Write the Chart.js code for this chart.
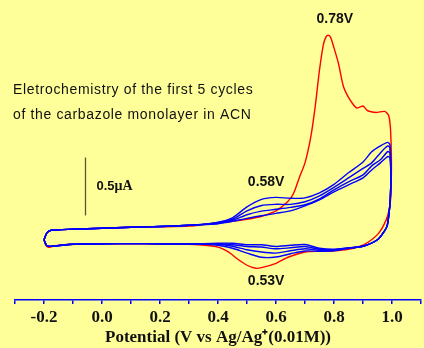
<!DOCTYPE html>
<html>
<head>
<meta charset="utf-8">
<script src="https://cdn.jsdelivr.net/npm/chart.js@4/dist/chart.umd.min.js"></script>
<style>
  html, body { margin: 0; padding: 0; background: #ffff99; }
  #wrap { width: 424px; height: 348px; }
</style>
</head>
<body>
<div id="wrap"><canvas id="c" width="424" height="348"></canvas></div>
<script>
// Cycle 1 (red): potential (V) and current (uA), forward sweep then reverse sweep
const cycle1Potential = [-0.2, -0.19, -0.175, -0.1, 0.0, 0.1, 0.2, 0.3, 0.4, 0.45, 0.5, 0.55, 0.6, 0.64, 0.66, 0.68, 0.7, 0.72, 0.735, 0.75, 0.763, 0.772, 0.78, 0.788, 0.797, 0.815, 0.832, 0.849, 0.865, 0.878, 0.89, 0.9, 0.91, 0.918, 0.945, 0.975, 0.989, 0.995,
  0.998, 0.996, 0.99, 0.98, 0.955, 0.92, 0.89, 0.85, 0.8, 0.75, 0.7, 0.643, 0.6, 0.55, 0.53, 0.5, 0.466, 0.437, 0.4, 0.334, 0.2, 0.1, 0.0, -0.123, -0.17, -0.185, -0.195, -0.2];
const cycle1Current = [0, 0.060, 0.082, 0.091, 0.099, 0.108, 0.112, 0.118, 0.147, 0.159, 0.177, 0.203, 0.250, 0.328, 0.397, 0.534, 0.664, 0.888, 1.147, 1.466, 1.681, 1.750, 1.767, 1.750, 1.681, 1.526, 1.328, 1.233, 1.172, 1.138, 1.147, 1.155, 1.129, 1.112, 1.099, 1.108, 1.069, 0.948,
  0.690, 0.371, 0.259, 0.172, 0.060, -0.017, -0.056, -0.082, -0.095, -0.099, -0.106, -0.149, -0.203, -0.241, -0.246, -0.220, -0.164, -0.106, -0.063, -0.043, -0.037, -0.034, -0.036, -0.041, -0.056, -0.065, -0.043, 0];

// Cycles 2-5 (blue) share one potential list
const blueCyclesPotential = [-0.2, -0.19, -0.175, -0.1, 0.0, 0.1, 0.2, 0.3, 0.35, 0.4, 0.45, 0.5, 0.55, 0.6, 0.65, 0.7, 0.75, 0.8, 0.85, 0.9, 0.93, 0.96, 0.985, 0.993,
  0.996, 0.994, 0.99, 0.984, 0.975, 0.95, 0.9, 0.85, 0.8, 0.75, 0.7, 0.65, 0.6, 0.55, 0.5, 0.45, 0.4, 0.35, 0.3, 0.2, 0.1, 0.0, -0.1, -0.17, -0.19, -0.2];
const cycle2Current = [0, 0.060, 0.082, 0.091, 0.099, 0.108, 0.114, 0.125, 0.134, 0.151, 0.190, 0.284, 0.349, 0.366, 0.358, 0.362, 0.405, 0.478, 0.578, 0.672, 0.759, 0.810, 0.841, 0.819,
  0.560, 0.345, 0.233, 0.129, 0.078, 0, -0.056, -0.073, -0.095, -0.099, -0.097, -0.121, -0.149, -0.151, -0.115, -0.073, -0.047, -0.039, -0.034, -0.034, -0.033, -0.034, -0.039, -0.056, -0.052, 0];
const cycle3Current = [0, 0.060, 0.082, 0.091, 0.099, 0.108, 0.114, 0.125, 0.133, 0.147, 0.177, 0.250, 0.296, 0.306, 0.306, 0.328, 0.379, 0.453, 0.534, 0.616, 0.664, 0.750, 0.810, 0.793,
  0.552, 0.345, 0.233, 0.129, 0.078, 0, -0.056, -0.073, -0.091, -0.091, -0.078, -0.095, -0.115, -0.106, -0.086, -0.056, -0.039, -0.036, -0.034, -0.034, -0.033, -0.034, -0.039, -0.056, -0.052, 0];
const cycle4Current = [0, 0.060, 0.082, 0.091, 0.099, 0.108, 0.114, 0.125, 0.132, 0.142, 0.168, 0.216, 0.247, 0.263, 0.280, 0.302, 0.353, 0.431, 0.500, 0.560, 0.638, 0.690, 0.761, 0.750,
  0.543, 0.345, 0.233, 0.129, 0.078, 0, -0.056, -0.072, -0.086, -0.082, -0.058, -0.069, -0.078, -0.063, -0.058, -0.043, -0.034, -0.034, -0.034, -0.034, -0.033, -0.034, -0.039, -0.056, -0.052, 0];
const cycle5Current = [0, 0.060, 0.082, 0.091, 0.099, 0.108, 0.114, 0.125, 0.131, 0.138, 0.159, 0.185, 0.207, 0.228, 0.250, 0.293, 0.345, 0.414, 0.474, 0.534, 0.603, 0.664, 0.718, 0.707,
  0.534, 0.345, 0.233, 0.129, 0.078, 0, -0.056, -0.069, -0.082, -0.073, -0.041, -0.047, -0.058, -0.043, -0.043, -0.030, -0.030, -0.033, -0.034, -0.034, -0.033, -0.034, -0.039, -0.056, -0.052, 0];

// Axis tick labels (every 0.2 V; minor ticks every 0.1 V)
const tickLabels = ['-0.2', '0.0', '0.2', '0.4', '0.6', '0.8', '1.0'];
const xTitle = 'Potential (V vs Ag/Ag\u207A(0.01M))';
const descLines = ['Eletrochemistry of the first 5 cycles', 'of the carbazole monolayer in ACN'];
const peakLabels = [
  { text: '0.78V', v: 0.803, i: 1.905 },
  { text: '0.58V', v: 0.566, i: 0.50 },
  { text: '0.53V', v: 0.566, i: -0.355 }
];
const scaleBar = { v: -0.06, from: 0.21, to: 0.71, text: '0.5', unit: '\u03BCA' };

function toPoints(xs, ys) { return xs.map((x, k) => ({ x: x, y: ys[k] })); }

const BLUE = '#0000ff';
const RED = '#ff0000';

const bgPlugin = {
  id: 'bg',
  beforeDraw(chart) {
    const ctx = chart.ctx;
    ctx.save();
    ctx.fillStyle = '#ffff99';
    ctx.fillRect(0, 0, chart.width, chart.height);
    ctx.restore();
  }
};

const annotPlugin = {
  id: 'annot',
  afterDraw(chart) {
    const ctx = chart.ctx;
    const xs = chart.scales.x, ys = chart.scales.y;
    ctx.save();
    // description text
    ctx.fillStyle = '#111';
    ctx.font = '14px "Liberation Sans", Arial, sans-serif';
    ctx.textBaseline = 'middle';
    ctx.textAlign = 'left';
    if ('letterSpacing' in ctx) ctx.letterSpacing = '0.65px';
    ctx.fillText(descLines[0], 13, 90);
    ctx.fillText(descLines[1], 13, 115);
    if ('letterSpacing' in ctx) ctx.letterSpacing = '0px';
    // peak labels
    ctx.font = 'bold 14px "Liberation Sans", Arial, sans-serif';
    ctx.textAlign = 'center';
    peakLabels.forEach(p => {
      ctx.fillText(p.text, xs.getPixelForValue(p.v), ys.getPixelForValue(p.i));
    });
    // scale bar
    const bx = Math.round(xs.getPixelForValue(scaleBar.v)) + 0.5;
    ctx.strokeStyle = '#555533';
    ctx.lineWidth = 1.3;
    ctx.beginPath();
    ctx.moveTo(bx, ys.getPixelForValue(scaleBar.to));
    ctx.lineTo(bx, ys.getPixelForValue(scaleBar.from));
    ctx.stroke();
    ctx.textAlign = 'left';
    const ty = ys.getPixelForValue((scaleBar.from + scaleBar.to) / 2);
    ctx.font = 'bold 13px "Liberation Sans", Arial, sans-serif';
    ctx.fillText(scaleBar.text, bx + 11, ty);
    const w = ctx.measureText(scaleBar.text).width;
    ctx.font = 'bold 14px "Liberation Serif", "Times New Roman", serif';
    ctx.fillText(scaleBar.unit, bx + 11 + w, ty);
    ctx.restore();
  }
};

const blueSets = [cycle2Current, cycle3Current, cycle4Current, cycle5Current].map((c, k) => ({
  label: 'Cycle ' + (k + 2),
  data: toPoints(blueCyclesPotential, c),
  borderColor: BLUE,
  borderWidth: 1.4,
  pointRadius: 0,
  showLine: true,
  fill: false,
  tension: 0.25,
  order: 0
}));

new Chart(document.getElementById('c'), {
  type: 'scatter',
  data: {
    datasets: [{
      label: 'Cycle 1',
      data: toPoints(cycle1Potential, cycle1Current),
      borderColor: RED,
      borderWidth: 1.4,
      pointRadius: 0,
      showLine: true,
      fill: false,
      tension: 0.25,
      order: 1
    }].concat(blueSets)
  },
  options: {
    responsive: false,
    animation: false,
    layout: { padding: { left: 15, right: 1, top: 0, bottom: 0 } },
    plugins: { legend: { display: false }, tooltip: { enabled: false } },
    scales: {
      x: {
        type: 'linear',
        min: -0.3,
        max: 1.1,
        afterFit(scale) { scale.height = 48; },
        border: { display: true, color: BLUE, width: 1.5 },
        grid: { drawOnChartArea: false, drawTicks: true, tickLength: 4, color: BLUE, lineWidth: 1.5 },
        ticks: {
          stepSize: 0.1,
          autoSkip: false,
          maxRotation: 0,
          padding: 3,
          color: '#111',
          font: { family: '"Liberation Serif", "Times New Roman", serif', size: 17, weight: 'bold' },
          callback(v) {
            const t = Math.round(v * 10);
            if (t % 2 !== 0) return '';
            const idx = (t + 2) / 2;
            return (idx >= 0 && idx < tickLabels.length) ? tickLabels[idx] : '';
          }
        },
        title: {
          display: true,
          text: xTitle,
          color: '#111',
          padding: { top: 0, bottom: 0 },
          font: { family: '"Liberation Serif", "Times New Roman", serif', size: 17, weight: 'bold' }
        }
      },
      y: {
        type: 'linear',
        display: false,
        min: -0.52,
        max: 2.07
      }
    }
  },
  plugins: [bgPlugin, annotPlugin]
});
</script>
</body>
</html>
